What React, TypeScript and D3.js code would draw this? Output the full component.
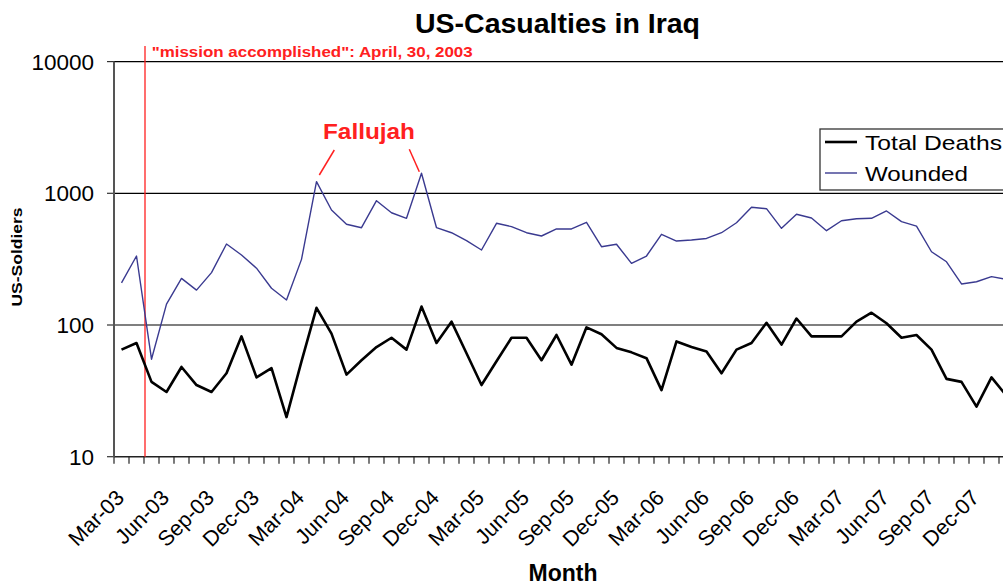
import React from "react";
import * as d3 from "d3";

const months = [
  "Mar-03","Apr-03","May-03","Jun-03","Jul-03","Aug-03","Sep-03","Oct-03","Nov-03","Dec-03",
  "Jan-04","Feb-04","Mar-04","Apr-04","May-04","Jun-04","Jul-04","Aug-04","Sep-04","Oct-04",
  "Nov-04","Dec-04","Jan-05","Feb-05","Mar-05","Apr-05","May-05","Jun-05","Jul-05","Aug-05",
  "Sep-05","Oct-05","Nov-05","Dec-05","Jan-06","Feb-06","Mar-06","Apr-06","May-06","Jun-06",
  "Jul-06","Aug-06","Sep-06","Oct-06","Nov-06","Dec-06","Jan-07","Feb-07","Mar-07","Apr-07",
  "May-07","Jun-07","Jul-07","Aug-07","Sep-07","Oct-07","Nov-07","Dec-07","Jan-08","Feb-08",
];

const tickLabels = [
  "Mar-03","Jun-03","Sep-03","Dec-03","Mar-04","Jun-04","Sep-04","Dec-04","Mar-05","Jun-05",
  "Sep-05","Dec-05","Mar-06","Jun-06","Sep-06","Dec-06","Mar-07","Jun-07","Sep-07","Dec-07",
];

const totalDeaths = [
  65, 73, 37, 31, 48, 35, 31, 43, 82, 40,
  47, 20, 53, 135, 86, 42, 54, 68, 80, 65,
  138, 73, 106, 61, 35, 53, 80, 80, 54, 84,
  50, 96, 85, 67, 62, 56, 32, 75, 68, 63,
  43, 65, 73, 104, 71, 112, 82, 82, 82, 106,
  124, 103, 80, 84, 65, 39, 37, 24, 40, 29,
];

const wounded = [
  209, 334, 55, 144, 226, 184, 250, 412, 340, 270,
  190, 155, 315, 1225, 747, 582, 548, 879, 712, 646,
  1419, 548, 502, 437, 371, 592, 558, 502, 474, 536,
  536, 602, 393, 410, 294, 334, 488, 434, 442, 454,
  502, 598, 783, 764, 542, 693, 649, 520, 619, 641,
  646, 734, 609, 564, 360, 302, 205, 213, 233, 222,
];

const yTicks = [10, 100, 1000, 10000];

const W = 1003;
const H = 585;
const FONT = "'Liberation Sans', Arial, Helvetica, sans-serif";
const RED = "#ff2020";
const BLUE = "#3a3a90";

export default function App() {
  const left = 114;
  const top = 61.6;
  const bottom = 456.7;
  const x = d3.scaleBand<string>().domain(months).range([left, left + months.length * 15]);
  const y = d3.scaleLog().domain([10, 10000]).range([bottom, top]);
  const cx = (m: string) => (x(m) as number) + x.bandwidth() / 2;

  const line = d3
    .line<number>()
    .x((_, i) => cx(months[i]))
    .y((v) => y(v));

  const plotRight = W + 20;
  const missionX = (x("May-03") as number) + 1;

  return (
    <svg
      width={W}
      height={H}
      style={{ position: "absolute", left: 0, top: 0, background: "#fff" }}
      fontFamily={FONT}
    >
      <rect x={0} y={0} width={W} height={H} fill="#fff" />
      <text x={557.5} y={32.5} textAnchor="middle" fontSize={27} fontWeight="bold" fill="#000"
        textLength={285} lengthAdjust="spacingAndGlyphs">
        US-Casualties in Iraq
      </text>

      {yTicks.slice(1).map((t) => (
        <line key={t} x1={left} x2={plotRight} y1={y(t)} y2={y(t)} stroke="#000" strokeWidth={1.2} />
      ))}
      {yTicks.map((t) => (
        <g key={"yt" + t}>
          <line x1={left - 7} x2={left} y1={y(t)} y2={y(t)} stroke="#333" strokeWidth={1.2} />
          <text x={94} y={y(t)} dy="0.36em" textAnchor="end" fontSize={22.5} fill="#000">
            {t}
          </text>
        </g>
      ))}

      <line x1={left} x2={plotRight} y1={bottom} y2={bottom} stroke="#222" strokeWidth={1.5} />
      {months.map((m) => (
        <line
          key={"xt" + m}
          x1={x(m) as number}
          x2={x(m) as number}
          y1={bottom}
          y2={bottom + 7}
          stroke="#222"
          strokeWidth={1.2}
        />
      ))}
      {tickLabels.map((m) => {
        const px = cx(m) + 4;
        const py = 499;
        return (
          <text
            key={"xl" + m}
            x={px}
            y={py}
            textAnchor="end"
            fontSize={21.5}
            fill="#000"
            transform={`rotate(-45 ${px} ${py})`}
          >
            {m}
          </text>
        );
      })}

      <line x1={left} x2={left} y1={top} y2={bottom} stroke="#555" strokeWidth={2} />

      <line x1={missionX} x2={missionX} y1={46} y2={bottom} stroke={RED} strokeWidth={1.3} />
      <text x={151.7} y={56.5} fontSize={15} fontWeight="bold" fill={RED}
        textLength={321} lengthAdjust="spacingAndGlyphs">
        "mission accomplished": April, 30, 2003
      </text>

      <path d={line(wounded) as string} fill="none" stroke={BLUE} strokeWidth={1.4} strokeLinejoin="round" />
      <path d={line(totalDeaths) as string} fill="none" stroke="#000" strokeWidth={2.6} strokeLinejoin="round" />

      <text x={369} y={138.5} textAnchor="middle" fontSize={22} fontWeight="bold" fill={RED}
        textLength={92} lengthAdjust="spacingAndGlyphs">
        Fallujah
      </text>
      <line x1={334.3} y1={150} x2={319.3} y2={175} stroke={RED} strokeWidth={1.5} />
      <line x1={409.3} y1={149.3} x2={419.3} y2={171.7} stroke={RED} strokeWidth={1.5} />

      <rect x={820} y={129} width={220} height={61} fill="#fff" stroke="#333" strokeWidth={1.3} />
      <line x1={825} x2={857} y1={142} y2={142} stroke="#000" strokeWidth={2.6} />
      <text x={865} y={142} dy="0.36em" fontSize={21} fill="#000"
        textLength={137} lengthAdjust="spacingAndGlyphs">
        Total Deaths
      </text>
      <line x1={825} x2={857} y1={173} y2={173} stroke={BLUE} strokeWidth={1.4} />
      <text x={865} y={173} dy="0.36em" fontSize={21} fill="#000"
        textLength={103} lengthAdjust="spacingAndGlyphs">
        Wounded
      </text>

      <text
        x={17}
        y={257}
        dy="0.36em"
        textAnchor="middle"
        fontSize={15}
        fontWeight="bold"
        fill="#000"
        transform="rotate(-90 17 257)"
        textLength={99}
        lengthAdjust="spacingAndGlyphs"
      >
        US-Soldiers
      </text>
      <text x={563} y={581} textAnchor="middle" fontSize={23} fontWeight="bold" fill="#000">
        Month
      </text>
    </svg>
  );
}
